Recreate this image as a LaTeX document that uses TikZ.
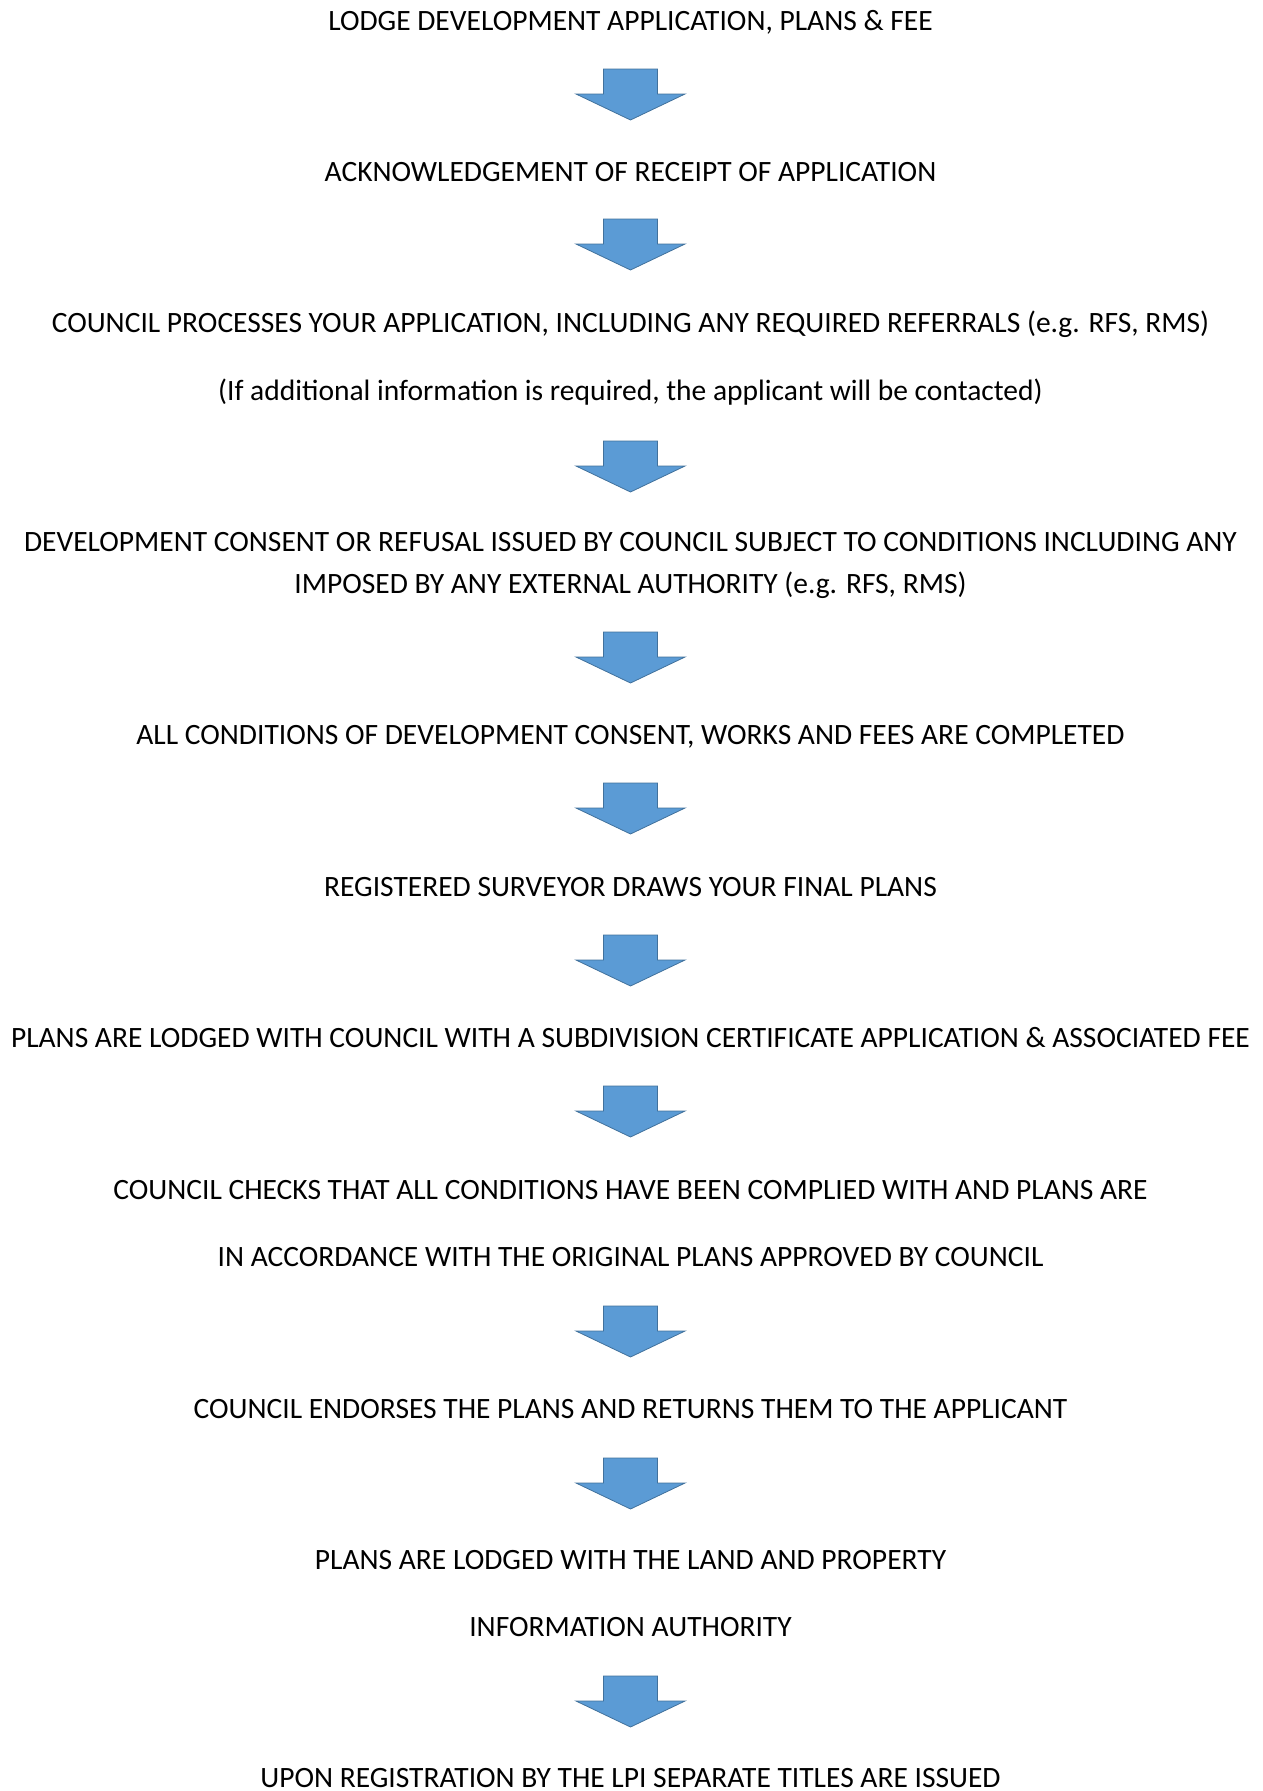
\documentclass[tikz,border=0pt]{standalone}
\usepackage{fontspec}
\setmainfont{Carlito}
\definecolor{arrfill}{HTML}{5B9BD5}
\definecolor{arrline}{HTML}{41719C}
\begin{document}
\begin{tikzpicture}[x=1pt,y=-1pt,
  lbl/.style={anchor=base,inner sep=0pt,font=\fontsize{29.5}{35}\selectfont},
  blockarrow/.style={fill=arrfill,draw=arrline,line width=0.8pt}]
\useasboundingbox (0,0) rectangle (1263,1791);
\newcommand{\downarrowat}[2]{%
  \draw[blockarrow] (#1-27,#2) -- (#1+27,#2) -- (#1+27,#2+25) -- (#1+54.5,#2+25)
    -- (#1,#2+51) -- (#1-54.5,#2+25) -- (#1-27,#2+25) -- cycle;}
\def\cx{630.5}
\node[lbl] (t1) at (\cx,30) {LODGE DEVELOPMENT APPLICATION, PLANS \& FEE};
\node[lbl] (t2) at (\cx,181) {ACKNOWLEDGEMENT OF RECEIPT OF APPLICATION};
\node[lbl] (t3) at (\cx,332) {COUNCIL PROCESSES YOUR APPLICATION, INCLUDING ANY REQUIRED REFERRALS (e.g. RFS, RMS)};
\node[lbl] (t3b) at (\cx,400) {(If additional information is required, the applicant will be contacted)};
\node[lbl] (t4) at (\cx,551) {DEVELOPMENT CONSENT OR REFUSAL ISSUED BY COUNCIL SUBJECT TO CONDITIONS INCLUDING ANY};
\node[lbl] (t4b) at (\cx,593) {IMPOSED BY ANY EXTERNAL AUTHORITY (e.g. RFS, RMS)};
\node[lbl] (t5) at (\cx,744) {ALL CONDITIONS OF DEVELOPMENT CONSENT, WORKS AND FEES ARE COMPLETED};
\node[lbl] (t6) at (\cx,896) {REGISTERED SURVEYOR DRAWS YOUR FINAL PLANS};
\node[lbl] (t7) at (\cx,1047) {PLANS ARE LODGED WITH COUNCIL WITH A SUBDIVISION CERTIFICATE APPLICATION \& ASSOCIATED FEE};
\node[lbl] (t8) at (\cx,1199) {COUNCIL CHECKS THAT ALL CONDITIONS HAVE BEEN COMPLIED WITH AND PLANS ARE};
\node[lbl] (t8b) at (\cx,1266) {IN ACCORDANCE WITH THE ORIGINAL PLANS APPROVED BY COUNCIL};
\node[lbl] (t9) at (\cx,1418) {COUNCIL ENDORSES THE PLANS AND RETURNS THEM TO THE APPLICANT};
\node[lbl] (t10) at (\cx,1569) {PLANS ARE LODGED WITH THE LAND AND PROPERTY};
\node[lbl] (t10b) at (\cx,1636) {INFORMATION AUTHORITY};
\node[lbl] (t11) at (\cx,1787) {UPON REGISTRATION BY THE LPI SEPARATE TITLES ARE ISSUED};
\downarrowat{\cx}{69}
\downarrowat{\cx}{219}
\downarrowat{\cx}{441}
\downarrowat{\cx}{632}
\downarrowat{\cx}{783}
\downarrowat{\cx}{935}
\downarrowat{\cx}{1086}
\downarrowat{\cx}{1306}
\downarrowat{\cx}{1458}
\downarrowat{\cx}{1676}
\end{tikzpicture}
\end{document}
